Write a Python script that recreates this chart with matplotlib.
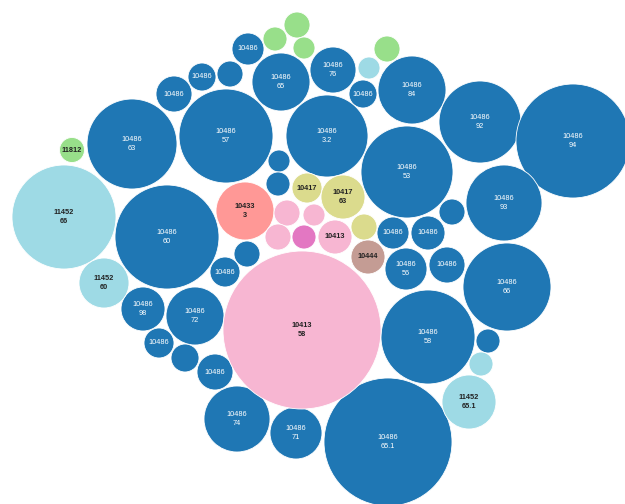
import matplotlib.pyplot as plt
from matplotlib.patches import Circle

plt.rcParams['font.family'] = ['Liberation Sans', 'DejaVu Sans']

# one entry per bubble: group id, value line, centre x/y and radius (chart units)
groups = ['10486'] * 36 + ['11452'] * 5 + ['11812'] * 5 + ['10433'] + ['10417'] * 3 + \
         ['10413'] * 5 + ['other'] + ['10444']
labels = [
    '10486', '', '10486', '10486', '10486', '10486', '10486', '10486', '10486', '10486',
    '10486', '10486', '10486', '10486', '10486', '', '', '', '10486', '10486',
    '10486', '10486', '10486', '10486', '', '10486', '10486', '10486', '10486', '',
    '10486', '10486', '10486', '10486', '', '10486',
    '11452', '11452', '11452', '', '',
    '11812', '', '', '', '',
    '10433',
    '10417', '10417', '',
    '10413', '10413', '', '', '',
    '',
    '10444',
]
values = [
    '', '', '', '', '65', '76', '', '84', '92', '94',
    '63', '57', '3.2', '53', '93', '', '', '', '60', '',
    '', '56', '', '66', '', '', '98', '72', '', '',
    '', '74', '71', '58', '', '65.1',
    '66', '60', '65.1', '', '',
    '', '', '', '', '',
    '3',
    '', '63', '',
    '58', '', '', '', '',
    '',
    '',
]
x = [248, 230, 202, 174, 281, 333, 363, 412, 480, 573,
     132, 226, 327, 407, 504, 452, 279, 278, 167, 393,
     428, 406, 447, 507, 247, 225, 143, 195, 159, 185,
     215, 237, 296, 428, 488, 388,
     64, 104, 469, 481, 369,
     72, 297, 275, 304, 387,
     245,
     307, 343, 364,
     302, 335, 287, 314, 278,
     304,
     368]
y = [49, 74, 77, 94, 82, 70, 94, 90, 122, 141,
     144, 136, 136, 172, 203, 212, 161, 184, 237, 233,
     233, 269, 265, 287, 254, 272, 309, 316, 343, 358,
     372, 419, 433, 337, 341, 442,
     217, 283, 402, 364, 68,
     150, 25, 39, 48, 49,
     211,
     188, 197, 227,
     330, 237, 213, 215, 237,
     237,
     257]
r = [16, 13, 14, 18, 29, 23, 14, 34, 41, 57,
     45, 47, 41, 46, 38, 13, 11, 12, 52, 16,
     17, 21, 18, 44, 13, 15, 22, 29, 15, 14,
     18, 33, 26, 47, 12, 64,
     52, 25, 27, 12, 11,
     12.5, 13, 12, 11, 13,
     29,
     15, 22, 13,
     79, 17, 13, 11, 13,
     12,
     17]

colors = {'10486': '#1f77b4', '11452': '#9edae5', '11812': '#98df8a', '10433': '#ff9896',
          '10417': '#dbdb8d', '10413': '#f7b6d2', 'other': '#e377c2', '10444': '#c49c94'}

fig = plt.figure(figsize=(6.25, 5.04), dpi=100)
ax = fig.add_axes([0, 0, 1, 1])
ax.set_xlim(0, 625)
ax.set_ylim(504, 0)
ax.set_aspect('equal')
ax.axis('off')

for g, lab, val, cx, cy, cr in zip(groups, labels, values, x, y, r):
    ax.add_patch(Circle((cx, cy), cr, facecolor=colors[g], edgecolor='white', linewidth=0.6))
    if lab:
        txt = lab + ('\n' + val if val else '')
        if g == '10486':
            ax.text(cx, cy, txt, ha='center', va='center', fontsize=5.3, color='white',
                    linespacing=1.25)
        else:
            ax.text(cx, cy, txt, ha='center', va='center', fontsize=5.3, color='#222222',
                    fontweight='bold', linespacing=1.25)

fig.savefig('out.png', dpi=100)
